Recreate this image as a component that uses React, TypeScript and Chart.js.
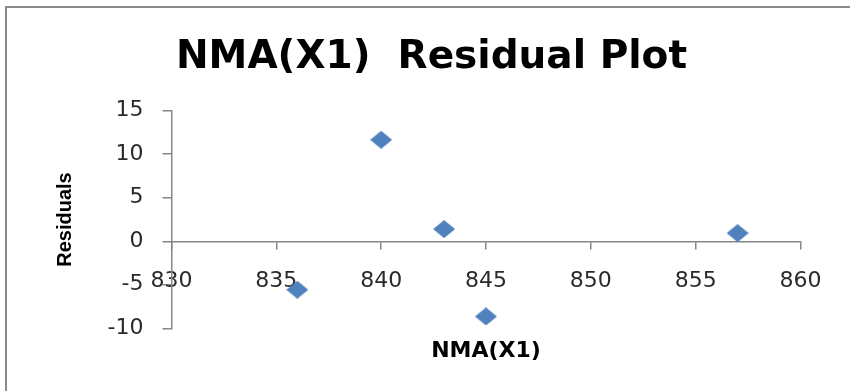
import React, { useEffect, useRef } from "react";
import { Chart, registerables } from "chart.js";

Chart.register(...registerables);

const nmaValues = [836, 840, 843, 845, 857];
const residualValues = [-5.57, 11.66, 1.4, -8.64, 0.94];
const chartTitle = "NMA(X1)  Residual Plot";
const xAxisTitle = "NMA(X1)";
const yAxisTitle = "Residuals";

const AXIS_GRAY = "#868686";
const LABEL_COLOR = "#2a2a2a";
const MARKER_BLUE = "#4F81BD";

function makeDiamond(): HTMLCanvasElement {
  const c = document.createElement("canvas");
  c.width = 22;
  c.height = 18;
  const g = c.getContext("2d")!;
  g.fillStyle = MARKER_BLUE;
  g.beginPath();
  g.moveTo(11, 0);
  g.lineTo(22, 9);
  g.lineTo(11, 18);
  g.lineTo(0, 9);
  g.closePath();
  g.fill();
  return c;
}

const framePlugin = {
  id: "frame",
  beforeDraw(chart: any) {
    const ctx = chart.ctx;
    ctx.save();
    ctx.fillStyle = "#ffffff";
    ctx.fillRect(0, 0, chart.width, chart.height);
    ctx.strokeStyle = "#8a8a8a";
    ctx.lineWidth = 2;
    ctx.beginPath();
    ctx.moveTo(6, chart.height + 5);
    ctx.lineTo(6, 7);
    ctx.lineTo(chart.width + 5, 7);
    ctx.stroke();
    ctx.restore();
  },
};

export default function App() {
  const ref = useRef<HTMLCanvasElement | null>(null);

  useEffect(() => {
    if (!ref.current) return;
    const diamond = makeDiamond();
    const tickFont = { family: "'DejaVu Sans'", size: 22 };
    const chart = new Chart(ref.current, {
      type: "scatter",
      data: {
        datasets: [
          {
            label: "Residuals",
            data: nmaValues.map((x, i) => ({ x, y: residualValues[i] })),
            pointStyle: diamond as any,
            backgroundColor: MARKER_BLUE,
            borderColor: MARKER_BLUE,
          },
        ],
      },
      options: {
        animation: false,
        responsive: false,
        layout: { padding: { left: 13, right: 0, top: 0, bottom: 0 } },
        plugins: {
          legend: { display: false },
          tooltip: { enabled: false },
          title: {
            display: true,
            text: chartTitle,
            color: "#000000",
            font: { family: "'DejaVu Sans'", weight: "bold", size: 39, lineHeight: 1.2 },
            padding: { top: 34.2, bottom: 29.7 },
          },
        },
        scales: {
          x: {
            type: "linear",
            position: { y: 0 } as any,
            min: 830,
            max: 860,
            ticks: { stepSize: 5, padding: 20, font: tickFont, color: LABEL_COLOR, maxRotation: 0 },
            grid: { display: true, drawOnChartArea: false, drawTicks: true, tickLength: 7, color: AXIS_GRAY, lineWidth: 1.5 },
            border: { display: true, color: AXIS_GRAY, width: 1.5 },
          },
          xt: {
            type: "linear",
            position: "bottom",
            min: 830,
            max: 860,
            ticks: { display: false },
            grid: { display: false },
            border: { display: false },
            title: {
              display: true,
              text: xAxisTitle,
              color: "#000000",
              font: { family: "'DejaVu Sans'", weight: "bold", size: 22, lineHeight: 1.2 },
              padding: { top: 0, bottom: 27 },
            },
            afterFit: (s: any) => {
              s.height = 62.7;
            },
          },
          y: {
            type: "linear",
            position: "left",
            min: -10,
            max: 15,
            ticks: { stepSize: 5, padding: 19, font: tickFont, color: LABEL_COLOR },
            grid: { display: true, drawOnChartArea: false, drawTicks: true, tickLength: 9, color: AXIS_GRAY, lineWidth: 1.5 },
            border: { display: true, color: AXIS_GRAY, width: 1.5 },
            title: {
              display: true,
              text: yAxisTitle,
              color: "#000000",
              font: { family: "'Liberation Sans'", weight: "bold", size: 20, lineHeight: 1.2 },
              padding: { top: 40.5, bottom: 0 },
            },
            afterFit: (s: any) => {
              s.width = 158.5;
            },
          },
          yr: {
            type: "linear",
            position: "right",
            ticks: { display: false },
            grid: { display: false },
            border: { display: false },
            afterFit: (s: any) => {
              s.width = 49.5;
            },
          },
        },
      },
      plugins: [framePlugin],
    } as any);
    return () => chart.destroy();
  }, []);

  return (
    <div style={{ position: "fixed", left: 0, top: 0, width: 850, height: 391, background: "#fff" }}>
      <canvas ref={ref} width={850} height={391} style={{ display: "block" }} />
    </div>
  );
}
